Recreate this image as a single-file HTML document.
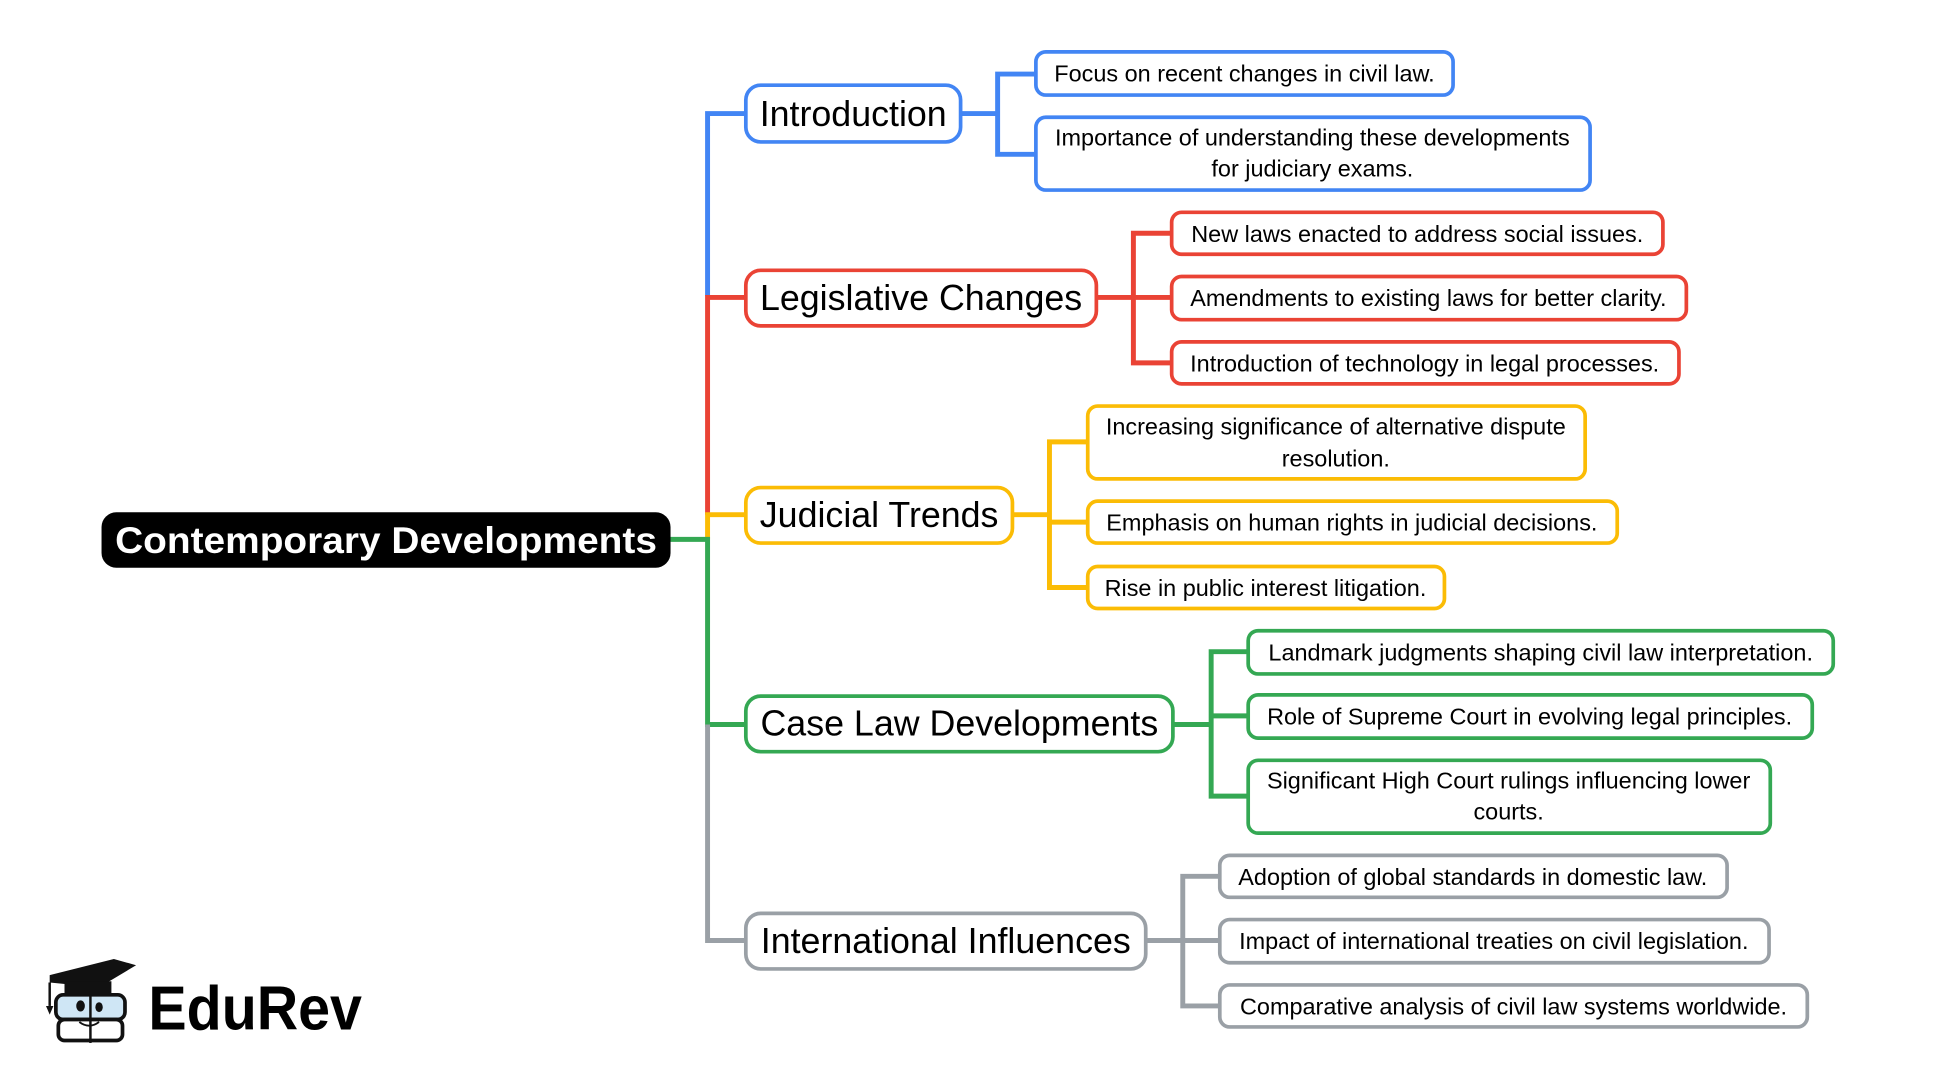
<!DOCTYPE html>
<html><head><meta charset="utf-8"><style>
html,body{margin:0;padding:0;background:#fff;width:1936px;height:1080px;overflow:hidden}
svg{display:block}
text{font-family:"Liberation Sans",Arial,sans-serif;fill:#000}
</style></head><body>
<svg width="1936" height="1080" viewBox="0 0 1568 875" xmlns="http://www.w3.org/2000/svg">
<g fill="none" stroke-width="4">
<path d="M604 92 H573 V240" stroke="#4285f4"/>
<path d="M604 241 H573 V417" stroke="#ea4335"/>
<path d="M604 417 H573 V437" stroke="#fbbc05"/>
<path d="M543 437 H573 V587 H604" stroke="#34a853"/>
<path d="M573 587 V762 H604" stroke="#9aa0a6"/>
<path d="M778 92 H808 M839 60 H808 V125 H839" stroke="#4285f4"/>
<path d="M888 241 H918 M949 189 H918 V294 H949 M918 241 H949" stroke="#ea4335"/>
<path d="M820 417 H850 M881 358 H850 V476 H881 M850 423 H881" stroke="#fbbc05"/>
<path d="M950 587 H981 M1011 528 H981 V645 H1011 M981 580 H1011" stroke="#34a853"/>
<path d="M928 762 H958 M988 710 H958 V815 H988 M958 762 H988" stroke="#9aa0a6"/>
</g>
<rect x="82" y="415" width="461" height="45" rx="12" fill="#000"/>
<text x="312.5" y="448" text-anchor="middle" font-size="30" font-weight="bold" style="fill:#fff" textLength="439" lengthAdjust="spacingAndGlyphs">Contemporary Developments</text>
<g fill="#fff" stroke-width="3">
<rect x="604" y="69" width="174" height="46" rx="12" stroke="#4285f4"/>
<rect x="604" y="219" width="284" height="45" rx="12" stroke="#ea4335"/>
<rect x="604" y="395" width="216" height="45" rx="12" stroke="#fbbc05"/>
<rect x="604" y="564" width="346" height="45" rx="12" stroke="#34a853"/>
<rect x="604" y="740" width="324" height="45" rx="12" stroke="#9aa0a6"/>
</g>
<g font-size="29" text-anchor="middle">
<text x="691" y="102">Introduction</text>
<text x="746" y="251">Legislative Changes</text>
<text x="712" y="427">Judicial Trends</text>
<text x="777" y="596">Case Law Developments</text>
<text x="766" y="772">International Influences</text>
</g>
<g fill="#fff" stroke-width="3">
<rect x="839" y="42" width="338" height="35" rx="8" stroke="#4285f4"/>
<rect x="839" y="95" width="449" height="59" rx="8" stroke="#4285f4"/>
<rect x="949" y="172" width="398" height="34" rx="8" stroke="#ea4335"/>
<rect x="949" y="224" width="417" height="35" rx="8" stroke="#ea4335"/>
<rect x="949" y="277" width="411" height="34" rx="8" stroke="#ea4335"/>
<rect x="881" y="329" width="403" height="59" rx="8" stroke="#fbbc05"/>
<rect x="881" y="406" width="429" height="34" rx="8" stroke="#fbbc05"/>
<rect x="881" y="459" width="289" height="34" rx="8" stroke="#fbbc05"/>
<rect x="1011" y="511" width="474" height="35" rx="8" stroke="#34a853"/>
<rect x="1011" y="563" width="457" height="35" rx="8" stroke="#34a853"/>
<rect x="1011" y="616" width="423" height="59" rx="8" stroke="#34a853"/>
<rect x="988" y="693" width="411" height="34" rx="8" stroke="#9aa0a6"/>
<rect x="988" y="745" width="445" height="35" rx="8" stroke="#9aa0a6"/>
<rect x="988" y="798" width="476" height="34" rx="8" stroke="#9aa0a6"/>
</g>
<g font-size="19" text-anchor="middle">
<text x="1008" y="66">Focus on recent changes in civil law.</text>
<text x="1063" y="118">Importance of understanding these developments</text>
<text x="1063" y="143">for judiciary exams.</text>
<text x="1148" y="196">New laws enacted to address social issues.</text>
<text x="1157" y="248">Amendments to existing laws for better clarity.</text>
<text x="1154" y="301">Introduction of technology in legal processes.</text>
<text x="1082" y="352">Increasing significance of alternative dispute</text>
<text x="1082" y="378">resolution.</text>
<text x="1095" y="430">Emphasis on human rights in judicial decisions.</text>
<text x="1025" y="483">Rise in public interest litigation.</text>
<text x="1248" y="535">Landmark judgments shaping civil law interpretation.</text>
<text x="1239" y="587">Role of Supreme Court in evolving legal principles.</text>
<text x="1222" y="639">Significant High Court rulings influencing lower</text>
<text x="1222" y="664">courts.</text>
<text x="1193" y="717">Adoption of global standards in domestic law.</text>
<text x="1210" y="769">Impact of international treaties on civil legislation.</text>
<text x="1226" y="822">Comparative analysis of civil law systems worldwide.</text>
</g>
<g>
<path d="M40 790 L92 777 L110 782 L80 800 L40 796 Z" fill="#111"/>
<rect x="52" y="795" width="38" height="12" fill="#111"/>
<path d="M40 796 V815" stroke="#111" stroke-width="2"/>
<path d="M37 815 L43 815 L40 822 Z" fill="#111"/>
<rect x="45" y="806" width="56" height="20" rx="6" fill="#cfe6f5" stroke="#111" stroke-width="3"/>
<rect x="47" y="826" width="52" height="17" rx="5" fill="#fff" stroke="#111" stroke-width="3"/>
<path d="M73 806 V845" stroke="#111" stroke-width="2"/>
<ellipse cx="65" cy="815" rx="3.5" ry="4.5" fill="#111"/>
<ellipse cx="80" cy="816" rx="3" ry="4" fill="#111"/>
<path d="M64 828 Q72 834 80 828" stroke="#111" stroke-width="1.5" fill="none"/>
<text x="120" y="834" font-size="50" font-weight="bold" textLength="173" lengthAdjust="spacingAndGlyphs">EduRev</text>
</g>
</svg>
</body></html>
